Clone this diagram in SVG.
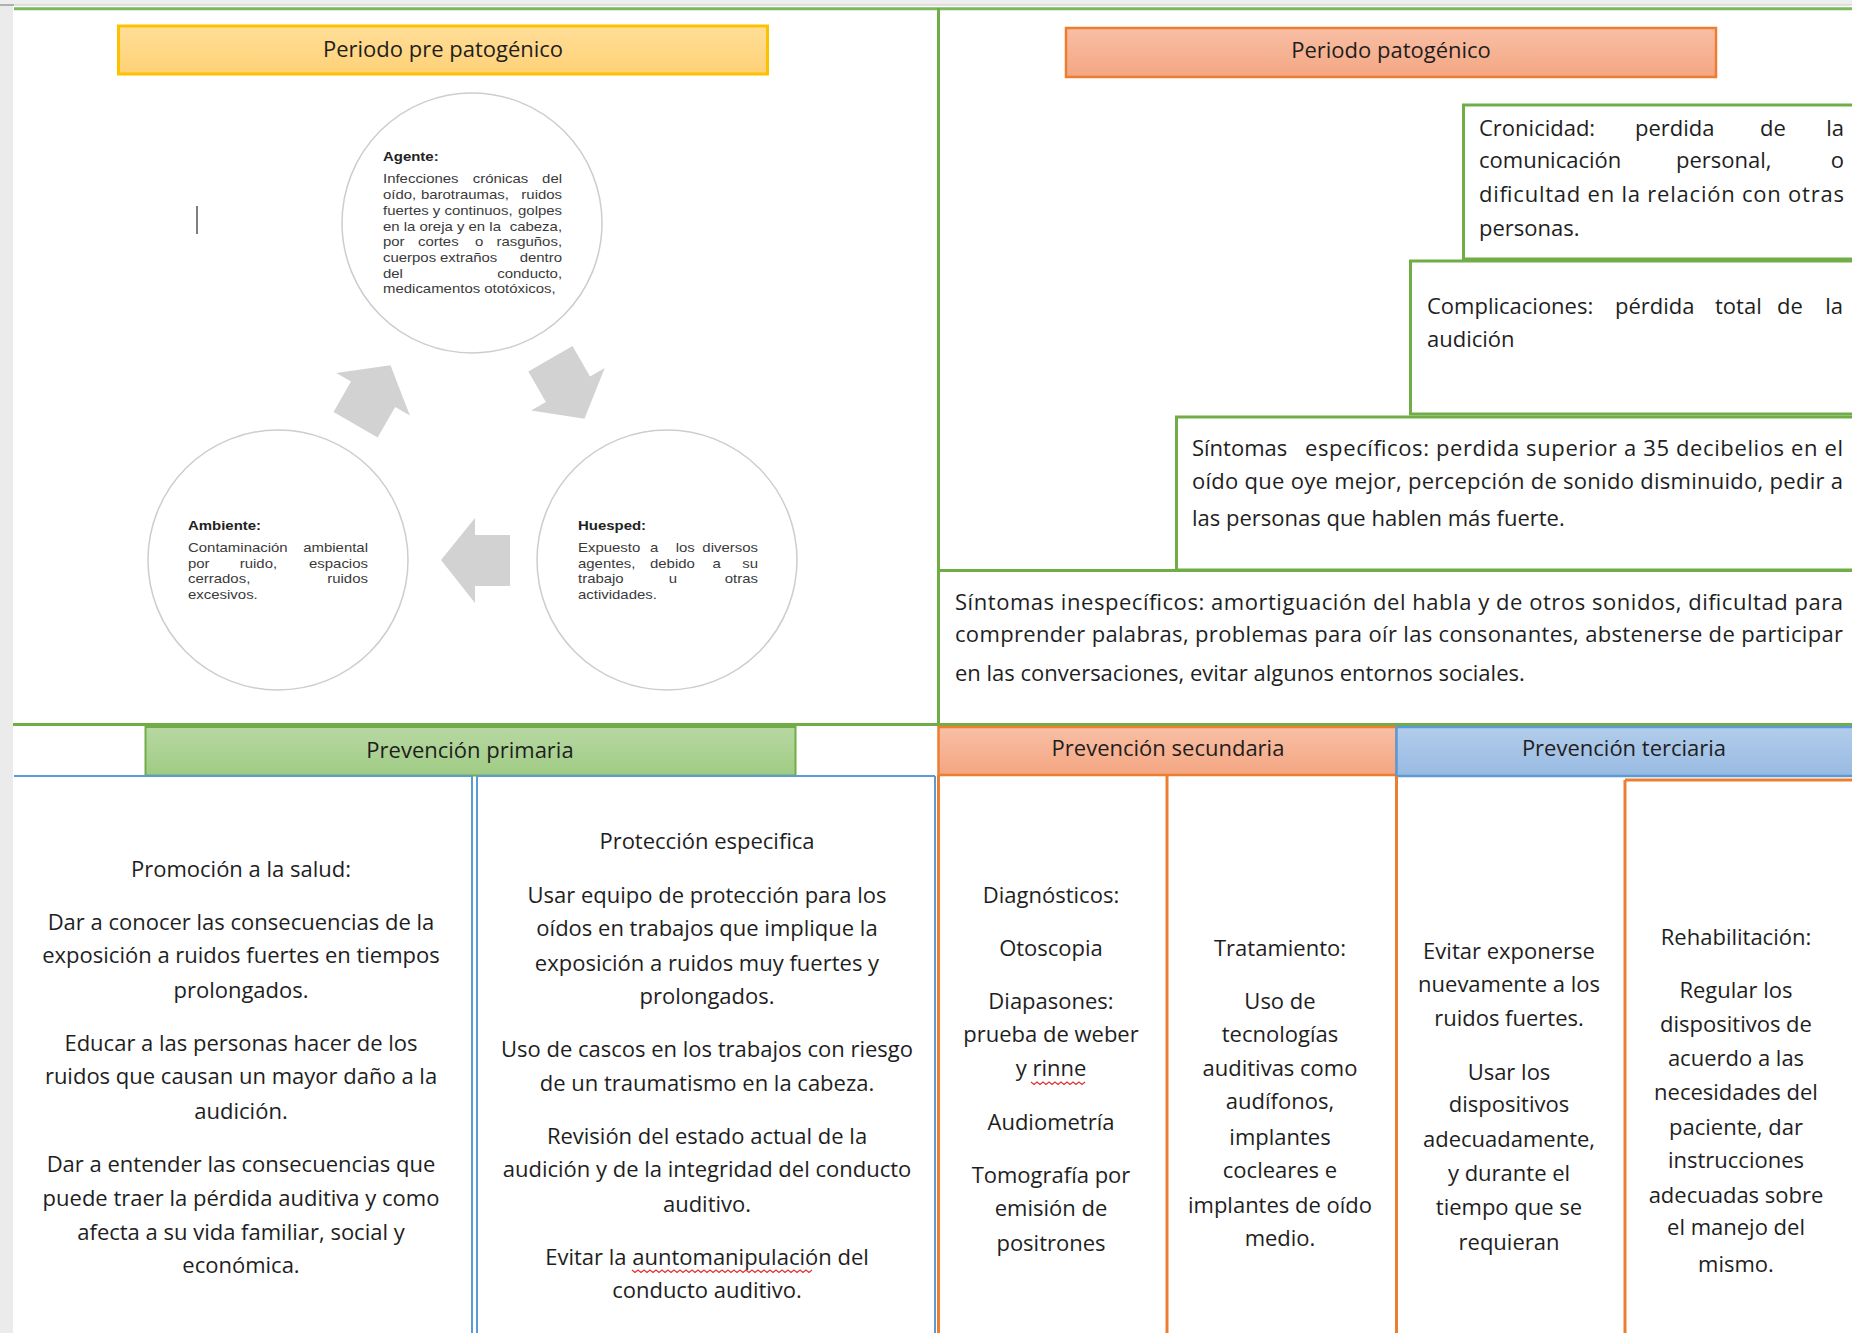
<svg xmlns="http://www.w3.org/2000/svg" width="1852" height="1333" viewBox="0 0 1852 1333">
<defs>
<linearGradient id="gY" x1="0" y1="0" x2="0" y2="1"><stop offset="0" stop-color="#FFDE98"/><stop offset="1" stop-color="#FFD176"/></linearGradient>
<linearGradient id="gO" x1="0" y1="0" x2="0" y2="1"><stop offset="0" stop-color="#F8BFA5"/><stop offset="1" stop-color="#F4A682"/></linearGradient>
<linearGradient id="gG" x1="0" y1="0" x2="0" y2="1"><stop offset="0" stop-color="#B7D8A2"/><stop offset="1" stop-color="#9FCB84"/></linearGradient>
<linearGradient id="gB" x1="0" y1="0" x2="0" y2="1"><stop offset="0" stop-color="#B3CDEB"/><stop offset="1" stop-color="#98BAE2"/></linearGradient>
<polygon id="arr" points="441,560 475,518 475,535 510,535 510,586 475,586 475,603"/>
</defs>
<style>
.b{font-family:"Open Sans","Noto Sans",sans-serif;font-size:22px;fill:#1e1e1e}
.c{text-anchor:middle}
.e{text-anchor:end}
.s{font-family:"Liberation Sans",Arial,sans-serif;font-size:13px;fill:#3a3a3a}
.h{font-weight:bold;fill:#222}
.gl{fill:none;stroke:#70AD47;stroke-width:3}
.ol{fill:none;stroke:#ED7D31;stroke-width:3}
.bl{fill:none;stroke:#5B9BD5;stroke-width:2}
.circ{fill:#fff;stroke:#CDCDCD;stroke-width:1.5}
.wave{fill:none;stroke:#E03030;stroke-width:1.2}
</style>
<rect width="1852" height="1333" fill="#fff"/>
<rect x="0" y="0" width="13" height="1333" fill="#EBEBEB"/>
<rect x="0" y="0" width="1852" height="5" fill="#EEEEEE"/>
<line x1="0" y1="5" x2="1852" y2="5" stroke="#C9C9C9" stroke-width="1.2"/>
<line x1="0" y1="5" x2="14" y2="5" stroke="#A0A0A0" stroke-width="1.5"/>

<g id="frame">
<line x1="14" y1="8.8" x2="1852" y2="8.8" stroke="#7DB85A" stroke-width="3"/>
<line x1="938.5" y1="8" x2="938.5" y2="725" class="gl" stroke-width="2.5"/>
<line x1="13" y1="724.5" x2="1852" y2="724.5" class="gl" stroke-width="2.5"/>
</g>

<g id="pre-header">
<rect x="118.5" y="26" width="649" height="48" fill="url(#gY)" stroke="#FFC000" stroke-width="3"/>
<text class="b c" x="443" y="57">Periodo pre patogénico</text>
</g>

<g id="cursor"><line x1="197" y1="206" x2="197" y2="234" stroke="#555" stroke-width="1.5"/></g>

<g id="connectors" fill="#D2D2D2">
<use href="#arr"/>
<use href="#arr" transform="rotate(120 472 448)"/>
<use href="#arr" transform="rotate(240 472 448)"/>
</g>

<g id="agente">
<circle class="circ" cx="472" cy="223" r="130"/>
<g transform="translate(383 0) scale(1.15 1)">
<text class="s h" x="0" y="161">Agente:</text>
<text class="s" x="0" y="183">Infecciones</text><text class="s" x="78" y="183">crónicas</text><text class="s e" x="155.7" y="183">del</text>
<text class="s" x="0" y="199">oído,</text><text class="s" x="33" y="199">barotraumas,</text><text class="s e" x="155.7" y="199">ruidos</text>
<text class="s" x="0" y="215">fuertes y continuos,</text><text class="s e" x="155.7" y="215">golpes</text>
<text class="s" x="0" y="231">en la oreja y en la</text><text class="s e" x="155.7" y="231">cabeza,</text>
<text class="s" x="0" y="246">por</text><text class="s" x="30.4" y="246">cortes</text><text class="s" x="80" y="246">o</text><text class="s e" x="155.7" y="246">rasguños,</text>
<text class="s" x="0" y="262">cuerpos</text><text class="s" x="49.6" y="262">extraños</text><text class="s e" x="155.7" y="262">dentro</text>
<text class="s" x="0" y="278">del</text><text class="s e" x="155.7" y="278">conducto,</text>
<text class="s" x="0" y="293">medicamentos ototóxicos,</text>
</g>
</g>

<g id="ambiente">
<circle class="circ" cx="278" cy="560" r="130"/>
<g transform="translate(188 0) scale(1.15 1)">
<text class="s h" x="0" y="530">Ambiente:</text>
<text class="s" x="0" y="552">Contaminación</text><text class="s e" x="156.5" y="552">ambiental</text>
<text class="s" x="0" y="568">por</text><text class="s" x="45" y="568">ruido,</text><text class="s e" x="156.5" y="568">espacios</text>
<text class="s" x="0" y="583">cerrados,</text><text class="s e" x="156.5" y="583">ruidos</text>
<text class="s" x="0" y="599">excesivos.</text>
</g>
</g>

<g id="huesped">
<circle class="circ" cx="667" cy="560" r="130"/>
<g transform="translate(578 0) scale(1.15 1)">
<text class="s h" x="0" y="530">Huesped:</text>
<text class="s" x="0" y="552">Expuesto</text><text class="s" x="62.6" y="552">a</text><text class="s" x="85" y="552">los</text><text class="s e" x="156.5" y="552">diversos</text>
<text class="s" x="0" y="568">agentes,</text><text class="s" x="62.6" y="568">debido</text><text class="s" x="117" y="568">a</text><text class="s e" x="156.5" y="568">su</text>
<text class="s" x="0" y="583">trabajo</text><text class="s" x="79" y="583">u</text><text class="s e" x="156.5" y="583">otras</text>
<text class="s" x="0" y="599">actividades.</text>
</g>
</g>

<g id="pat-header">
<rect x="1066" y="28" width="650" height="49" fill="url(#gO)" stroke="#ED7D31" stroke-width="2.5"/>
<text class="b c" x="1391" y="58">Periodo patogénico</text>
</g>

<g id="cronicidad">
<rect class="gl" x="1463.5" y="105" width="420" height="154"/>
<text class="b" x="1479" y="136">Cronicidad:</text><text class="b" x="1635" y="136">perdida</text><text class="b" x="1760" y="136">de</text><text class="b e" x="1844" y="136">la</text>
<text class="b" x="1479" y="168">comunicación</text><text class="b" x="1676" y="168">personal,</text><text class="b e" x="1844" y="168">o</text>
<text class="b" x="1479" y="202" textLength="365" lengthAdjust="spacing">dificultad en la relación con otras</text>
<text class="b" x="1479" y="236">personas.</text>
</g>

<g id="complicaciones">
<rect class="gl" x="1410.5" y="261" width="470" height="153"/>
<text class="b" x="1427" y="314">Complicaciones:</text><text class="b" x="1615" y="314">pérdida</text><text class="b" x="1715" y="314">total</text><text class="b" x="1777" y="314">de</text><text class="b e" x="1843" y="314">la</text>
<text class="b" x="1427" y="347">audición</text>
</g>

<g id="sintomas-especificos">
<rect class="gl" x="1176.5" y="417" width="700" height="153"/>
<text class="b" x="1192" y="456">Síntomas</text><text class="b" x="1305" y="456" textLength="538" lengthAdjust="spacing">específicos: perdida superior a 35 decibelios en el</text>
<text class="b" x="1192" y="489" textLength="651" lengthAdjust="spacing">oído que oye mejor, percepción de sonido disminuido, pedir a</text>
<text class="b" x="1192" y="526">las personas que hablen más fuerte.</text>
</g>

<g id="sintomas-inespecificos">
<line class="gl" x1="939" y1="570.5" x2="1852" y2="570.5"/>
<text class="b" x="955" y="610" textLength="888" lengthAdjust="spacing">Síntomas inespecíficos: amortiguación del habla y de otros sonidos, dificultad para</text>
<text class="b" x="955" y="642" textLength="888" lengthAdjust="spacing">comprender palabras, problemas para oír las consonantes, abstenerse de participar</text>
<text class="b" x="955" y="681">en las conversaciones, evitar algunos entornos sociales.</text>
</g>

<g id="prevencion-primaria">
<rect x="145.5" y="727" width="650" height="48.5" fill="url(#gG)" stroke="#70AD47" stroke-width="2"/>
<text class="b c" x="470" y="758">Prevención primaria</text>
</g>
<g id="primaria-columns">
<path class="bl" d="M14 776 H472 M477 776 H935 M472 776 V1333 M477 776 V1333 M935 776 V1333"/>
</g>

<g id="promocion">
<text class="b c" x="241" y="877">Promoción a la salud:</text>
<text class="b c" x="241" y="930">Dar a conocer las consecuencias de la</text>
<text class="b c" x="241" y="963">exposición a ruidos fuertes en tiempos</text>
<text class="b c" x="241" y="998">prolongados.</text>
<text class="b c" x="241" y="1051">Educar a las personas hacer de los</text>
<text class="b c" x="241" y="1084">ruidos que causan un mayor daño a la</text>
<text class="b c" x="241" y="1119">audición.</text>
<text class="b c" x="241" y="1172">Dar a entender las consecuencias que</text>
<text class="b c" x="241" y="1206">puede traer la pérdida auditiva y como</text>
<text class="b c" x="241" y="1240">afecta a su vida familiar, social y</text>
<text class="b c" x="241" y="1273">económica.</text>
</g>

<g id="proteccion">
<text class="b c" x="707" y="849">Protección especifica</text>
<text class="b c" x="707" y="903">Usar equipo de protección para los</text>
<text class="b c" x="707" y="936">oídos en trabajos que implique la</text>
<text class="b c" x="707" y="971">exposición a ruidos muy fuertes y</text>
<text class="b c" x="707" y="1004">prolongados.</text>
<text class="b c" x="707" y="1057">Uso de cascos en los trabajos con riesgo</text>
<text class="b c" x="707" y="1091">de un traumatismo en la cabeza.</text>
<text class="b c" x="707" y="1144">Revisión del estado actual de la</text>
<text class="b c" x="707" y="1177">audición y de la integridad del conducto</text>
<text class="b c" x="707" y="1212">auditivo.</text>
<text class="b c" x="707" y="1265">Evitar la auntomanipulación del</text>
<text class="b c" x="707" y="1298">conducto auditivo.</text>
<path class="wave" d="M632 1270 l3 2.5 l3 -2.5 l3 2.5 l3 -2.5 l3 2.5 l3 -2.5 l3 2.5 l3 -2.5 l3 2.5 l3 -2.5 l3 2.5 l3 -2.5 l3 2.5 l3 -2.5 l3 2.5 l3 -2.5 l3 2.5 l3 -2.5 l3 2.5 l3 -2.5 l3 2.5 l3 -2.5 l3 2.5 l3 -2.5 l3 2.5 l3 -2.5 l3 2.5 l3 -2.5 l3 2.5 l3 -2.5 l3 2.5 l3 -2.5 l3 2.5 l3 -2.5 l3 2.5 l3 -2.5 l3 2.5 l3 -2.5 l3 2.5 l3 -2.5 l3 2.5 l3 -2.5 l3 2.5 l3 -2.5 l3 2.5 l3 -2.5 l3 2.5 l3 -2.5 l3 2.5 l3 -2.5 l3 2.5 l3 -2.5 l3 2.5 l3 -2.5 l3 2.5 l3 -2.5 l3 2.5 l3 -2.5 l3 2.5 l3 -2.5"/>
</g>

<g id="prevencion-secundaria">
<rect x="938.5" y="727" width="458" height="48" fill="url(#gO)" stroke="#ED7D31" stroke-width="2.5"/>
<text class="b c" x="1168" y="756">Prevención secundaria</text>
</g>
<g id="prevencion-terciaria">
<rect x="1396.5" y="727" width="460" height="49" fill="url(#gB)" stroke="#5B9BD5" stroke-width="2.5"/>
<text class="b c" x="1624" y="756">Prevención terciaria</text>
</g>
<g id="orange-columns">
<path class="ol" d="M938.5 775 V1333 M1167 775 V1333 M1396.5 776 V1333 M1625 780 V1333 M1625 780 H1852"/>
</g>

<g id="diagnosticos">
<text class="b c" x="1051" y="903">Diagnósticos:</text>
<text class="b c" x="1051" y="956">Otoscopia</text>
<text class="b c" x="1051" y="1009">Diapasones:</text>
<text class="b c" x="1051" y="1042">prueba de weber</text>
<text class="b c" x="1051" y="1076">y rinne</text>
<path class="wave" d="M1031 1082 l3 2.5 l3 -2.5 l3 2.5 l3 -2.5 l3 2.5 l3 -2.5 l3 2.5 l3 -2.5 l3 2.5 l3 -2.5 l3 2.5 l3 -2.5 l3 2.5 l3 -2.5 l3 2.5 l3 -2.5 l3 2.5 l3 -2.5"/>
<text class="b c" x="1051" y="1130">Audiometría</text>
<text class="b c" x="1051" y="1183">Tomografía por</text>
<text class="b c" x="1051" y="1216">emisión de</text>
<text class="b c" x="1051" y="1251">positrones</text>
</g>

<g id="tratamiento">
<text class="b c" x="1280" y="956">Tratamiento:</text>
<text class="b c" x="1280" y="1009">Uso de</text>
<text class="b c" x="1280" y="1042">tecnologías</text>
<text class="b c" x="1280" y="1076">auditivas como</text>
<text class="b c" x="1280" y="1109">audífonos,</text>
<text class="b c" x="1280" y="1145">implantes</text>
<text class="b c" x="1280" y="1178">cocleares e</text>
<text class="b c" x="1280" y="1213">implantes de oído</text>
<text class="b c" x="1280" y="1246">medio.</text>
</g>

<g id="evitar">
<text class="b c" x="1509" y="959">Evitar exponerse</text>
<text class="b c" x="1509" y="992">nuevamente a los</text>
<text class="b c" x="1509" y="1026">ruidos fuertes.</text>
<text class="b c" x="1509" y="1080">Usar los</text>
<text class="b c" x="1509" y="1112">dispositivos</text>
<text class="b c" x="1509" y="1147">adecuadamente,</text>
<text class="b c" x="1509" y="1181">y durante el</text>
<text class="b c" x="1509" y="1215">tiempo que se</text>
<text class="b c" x="1509" y="1250">requieran</text>
</g>

<g id="rehabilitacion">
<text class="b c" x="1736" y="945">Rehabilitación:</text>
<text class="b c" x="1736" y="998">Regular los</text>
<text class="b c" x="1736" y="1032">dispositivos de</text>
<text class="b c" x="1736" y="1066">acuerdo a las</text>
<text class="b c" x="1736" y="1100">necesidades del</text>
<text class="b c" x="1736" y="1135">paciente, dar</text>
<text class="b c" x="1736" y="1168">instrucciones</text>
<text class="b c" x="1736" y="1203">adecuadas sobre</text>
<text class="b c" x="1736" y="1235">el manejo del</text>
<text class="b c" x="1736" y="1272">mismo.</text>
</g>
</svg>
